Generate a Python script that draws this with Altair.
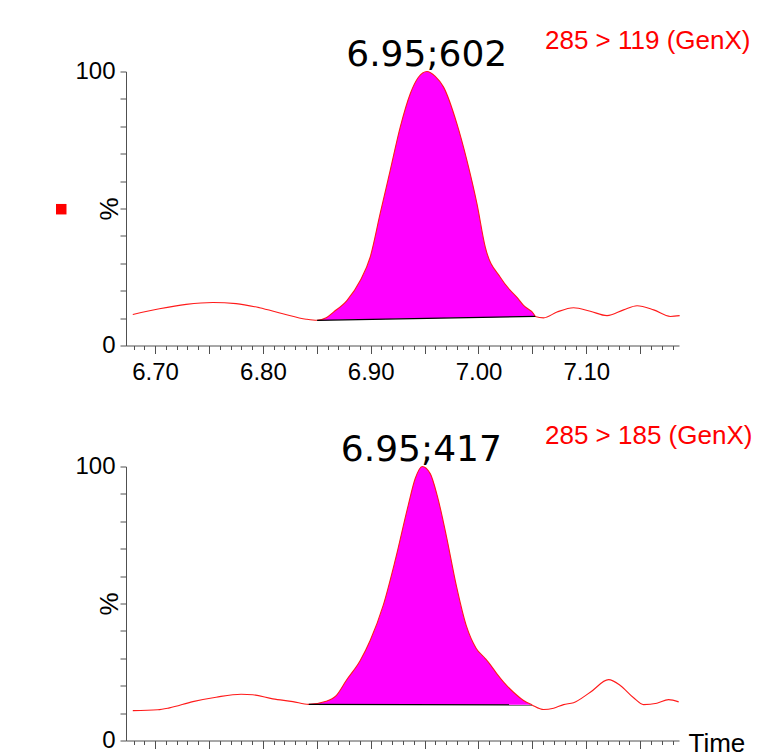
import altair as alt
import pandas as pd

# ---------------- data ----------------
top_t = [6.6793, 6.7040, 6.7288, 6.7536, 6.7752, 6.7968, 6.8185, 6.8401, 6.8503,
         6.8587, 6.8655, 6.8779, 6.8903, 6.8995, 6.9088, 6.9181, 6.9274, 6.9367,
         6.9441, 6.9522, 6.9599, 6.9676, 6.9800, 6.9893, 6.9986, 7.0063, 7.0202,
         7.0295, 7.0357, 7.0418, 7.0511, 7.0527, 7.0604, 7.0728, 7.0882, 7.1037,
         7.1192, 7.1346, 7.1471, 7.1625, 7.1780, 7.1866]
top_pct = [11.3, 13.4, 15.0, 15.7, 15.3, 13.8, 11.6, 9.6, 9.2,
           10.1, 12.2, 16.4, 23.7, 32.2, 48.2, 63.9, 79.7, 91.9,
           97.8, 100.0, 98.2, 94.3, 80.9, 67.5, 51.7, 35.9, 24.9,
           20.1, 17.6, 14.6, 11.6, 10.6, 10.1, 12.2, 13.8, 12.5,
           10.9, 13.0, 14.5, 13.0, 10.6, 10.9]

bot_t = [6.6793, 6.7025, 6.7133, 6.7350, 6.7566, 6.7798, 6.7907, 6.8092, 6.8278,
         6.8426, 6.8587, 6.8680, 6.8773, 6.8903, 6.8995, 6.9116, 6.9227, 6.9348,
         6.9413, 6.9478, 6.9552, 6.9617, 6.9701, 6.9794, 6.9886, 6.9979, 7.0063,
         7.0109, 7.0171, 7.0233, 7.0325, 7.0418, 7.0496, 7.0604, 7.0697, 7.0789,
         7.0882, 7.1037, 7.1207, 7.1315, 7.1439, 7.1531, 7.1655, 7.1763, 7.1857]
bot_pct = [10.9, 11.2, 11.9, 14.2, 15.8, 16.9, 16.7, 15.2, 14.2,
           13.2, 14.3, 16.4, 21.9, 29.2, 36.5, 49.3, 65.7, 85.8,
           95.6, 100.0, 97.4, 89.4, 74.8, 56.6, 42.0, 33.6, 29.9,
           27.7, 24.3, 21.3, 17.6, 14.6, 13.0, 11.3, 11.8, 13.1,
           13.8, 17.6, 22.2, 20.1, 15.6, 13.1, 13.6, 14.9, 14.1]

top_base_t = [6.8503, 7.0527]
top_base_pct = [9.2, 10.6]
bot_base_t = [6.8426, 7.0496]
bot_base_pct = [13.2, 13.0]

peak_t = [6.952, 6.947]
peak_labels = ["6.95;602", "6.95;417"]
channel_labels = ["285 > 119 (GenX)", "285 > 185 (GenX)"]

x_tick_labels = [6.70, 6.80, 6.90, 7.00, 7.10]
x_minor_ticks = [round(6.68 + 0.01 * i, 2) for i in range(51)]
y_ticks = list(range(0, 101, 10))
y_tick_labels = [0, 100]

X_DOMAIN = [6.673, 7.186]
W, H = 553, 274
FONT = "Liberation Sans"
AXIS_GREY = "#505050"

x_label_expr = " || ".join(f"abs(datum.value - {v}) < 0.0001" for v in x_tick_labels)
x_label_expr = f"({x_label_expr}) ? format(datum.value, '.2f') : ''"
y_label_expr = " || ".join(f"datum.value == {v}" for v in y_tick_labels)
y_label_expr = f"({y_label_expr}) ? datum.label : ''"


def panel(ts, ps, bt, bp, channel, peak_x, peak_label, marker, time_title):
    df = pd.DataFrame({"t": ts, "pct": ps})
    t0, t1 = bt
    b0, b1 = bp
    slope = (b1 - b0) / (t1 - t0)

    x_axis = alt.Axis(
        values=x_minor_ticks, tickCount=200, labelExpr=x_label_expr, grid=False,
        domainColor=AXIS_GREY, tickColor=AXIS_GREY, domainWidth=1, tickWidth=1,
        tickSize={"condition": {"test": "abs(datum.value*20 - round(datum.value*20)) < 0.001", "value": 8}, "value": 4},
        labelPadding=7, labelFont=FONT, labelFontSize=24, labelColor="black",
        labelOverlap=False, labelFlush=False,
        title="Time" if time_title else None,
        titleFont=FONT, titleFontSize=26, titleFontWeight="normal", titleColor="black",
        titleX=562, titleY=11, titleAlign="left", titleBaseline="alphabetic", titleAnchor="start",
    )
    y_axis = alt.Axis(
        values=y_ticks, tickCount=50, labelExpr=y_label_expr, grid=False,
        domainColor=AXIS_GREY, tickColor=AXIS_GREY, domainWidth=1, tickWidth=1,
        tickSize=6, labelPadding=5, labelFont=FONT, labelFontSize=24, labelColor="black",
        labelOverlap=False, labelFlush=False,
        title="%", titleFont=FONT, titleFontSize=26, titleFontWeight="normal",
        titleColor="black", titleAngle=270, titleX=-9, titleY=H / 2,
        titleAlign="center", titleBaseline="alphabetic",
    )
    x = alt.X("t:Q", scale=alt.Scale(domain=X_DOMAIN, nice=False, zero=False), axis=x_axis)
    y = alt.Y("pct:Q", scale=alt.Scale(domain=[0, 100], nice=False), axis=y_axis)

    area = (
        alt.Chart(df)
        .transform_filter(f"datum.t >= {t0 - 1e-6} && datum.t <= {t1 + 1e-6}")
        .transform_calculate(base=f"{b0} + (datum.t - {t0}) * {slope}")
        .mark_area(color="#ff00ff", interpolate="monotone", opacity=1)
        .encode(x=x, y=y, y2="base:Q")
    )
    line = (
        alt.Chart(df)
        .mark_line(color="#ff1a1a", strokeWidth=1.1, interpolate="monotone")
        .encode(x="t:Q", y="pct:Q")
    )
    baseline = (
        alt.Chart(pd.DataFrame({"t": bt, "pct": bp}))
        .mark_line(color="black", strokeWidth=1.2)
        .encode(x="t:Q", y="pct:Q")
    )
    peak = (
        alt.Chart(pd.DataFrame({"t": [peak_x], "pct": [100.0], "label": [peak_label]}))
        .mark_text(font="DejaVu Sans", fontSize=36, color="black", dy=-6,
                   align="center", baseline="alphabetic")
        .encode(x="t:Q", y="pct:Q", text="label:N")
    )
    chan = (
        alt.Chart(pd.DataFrame({"label": [channel]}))
        .mark_text(font=FONT, fontSize=26, color="#ff0000", align="left", baseline="alphabetic")
        .encode(x=alt.value(419.0), y=alt.value(-22.5), text="label:N")
    )
    layers = [area, line, baseline, peak, chan]
    if marker:
        sq = (
            alt.Chart(pd.DataFrame({"k": [0]}))
            .mark_square(color="#ff0000", size=110, opacity=1, filled=True)
            .encode(x=alt.value(-64.75), y=alt.value(137.7))
        )
        layers.append(sq)
    return alt.layer(*layers).properties(width=W, height=H)


top = panel(top_t, top_pct, top_base_t, top_base_pct, channel_labels[0],
            peak_t[0], peak_labels[0], True, False)
bottom = panel(bot_t, bot_pct, bot_base_t, bot_base_pct, channel_labels[1],
               peak_t[1], peak_labels[1], False, True)

chart = (
    alt.vconcat(top, bottom, spacing=121, bounds="flush")
    .properties(padding={"left": 48, "top": 19.5, "right": 0, "bottom": 0}, background="white")
    .configure_view(stroke=None)
)

chart.save("out.html", embed_options={"renderer": "svg", "actions": False})
